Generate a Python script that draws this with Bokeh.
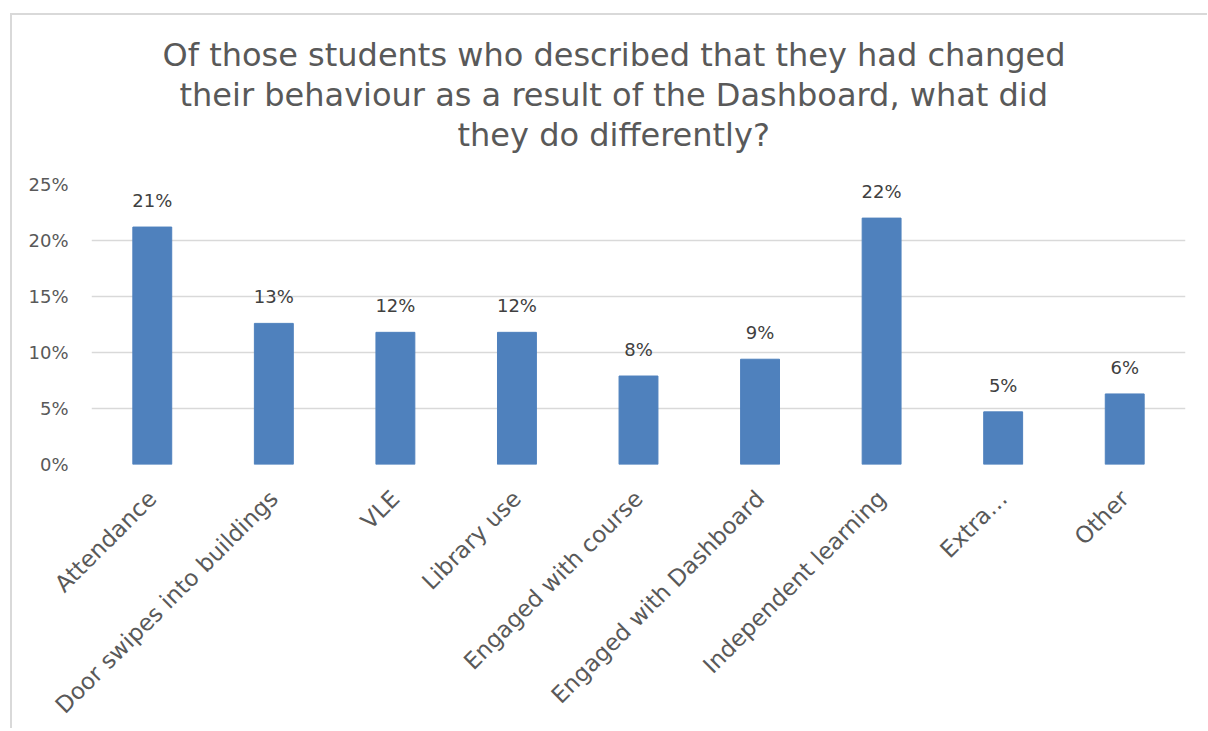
from math import pi
from bokeh.plotting import figure
from bokeh.models import (ColumnDataSource, FactorRange, Range1d, FixedTicker,
                          NumeralTickFormatter, Title, LabelSet)
from bokeh.core.properties import value
from bokeh.embed import file_html
from bokeh.resources import INLINE

categories = ["Attendance", "Door swipes into buildings", "VLE", "Library use",
              "Engaged with course", "Engaged with Dashboard",
              "Independent learning", "Extra…", "Other"]
values = [0.212, 0.126, 0.118, 0.118, 0.079, 0.094, 0.220, 0.047, 0.063]
title_lines = ["Of those students who described that they had changed",
               "their behaviour as a result of the Dashboard, what did",
               "they do differently?"]
y_ticks = [0, 0.05, 0.10, 0.15, 0.20, 0.25]

FONT = "DejaVu Sans"
GREY = "#595959"

src = ColumnDataSource(dict(cat=categories, val=values,
                            lab=[f"{round(v * 100):d}%" for v in values]))

p = figure(width=1197, height=715, output_backend="svg", toolbar_location=None,
           x_range=FactorRange(*categories, range_padding=0),
           y_range=Range1d(0, 0.25),
           min_border_left=79, min_border_right=24, min_border_top=169,
           min_border_bottom=262)
p.styles = {"margin-left": "10px", "margin-top": "13px",
            "border-left": "2px solid #d9d9d9", "border-top": "2px solid #d9d9d9"}
p.title = None

# spacer between the plot area and the title block
p.add_layout(Title(text=" ", text_font=FONT, text_font_size="16px"), "above")
# each title line is centred on the chart area (not on the plot frame)
title_offsets = [71, 88, 366]
for line, off in reversed(list(zip(title_lines, title_offsets))):
    p.add_layout(Title(text=line, align="left", offset=off, text_font=FONT,
                       text_font_size="32px", text_font_style="normal",
                       text_color=GREY, standoff=0), "above")

p.vbar(x="cat", top="val", width=0.32, source=src, color="#4f81bd")
p.add_layout(LabelSet(x="cat", y="val", text="lab", source=src,
                      text_align="center", text_baseline="bottom", y_offset=16,
                      text_font=value(FONT), text_font_size=value("18px"),
                      text_color="#404040"))

p.outline_line_color = None
p.background_fill_color = "white"
p.border_fill_color = "white"
p.xgrid.grid_line_color = None
p.ygrid.grid_line_color = "#d9d9d9"
p.ygrid.grid_line_width = 1.5

p.yaxis.ticker = FixedTicker(ticks=y_ticks)
p.yaxis.formatter = NumeralTickFormatter(format="0%")
p.yaxis.axis_line_color = None
p.yaxis.major_tick_line_color = None
p.yaxis.minor_tick_line_color = None
p.yaxis.major_label_standoff = 17
p.yaxis.major_label_text_font = FONT
p.yaxis.major_label_text_font_size = "18px"
p.yaxis.major_label_text_color = GREY

p.xaxis.axis_line_color = None
p.xaxis.major_tick_line_color = None
p.xaxis.minor_tick_line_color = None
p.xaxis.major_label_orientation = pi / 4
p.xaxis.major_label_standoff = 24
p.xaxis.major_label_text_font = FONT
p.xaxis.major_label_text_font_size = "23px"
p.xaxis.major_label_text_color = GREY

open("out.html", "w").write(file_html(p, INLINE))
